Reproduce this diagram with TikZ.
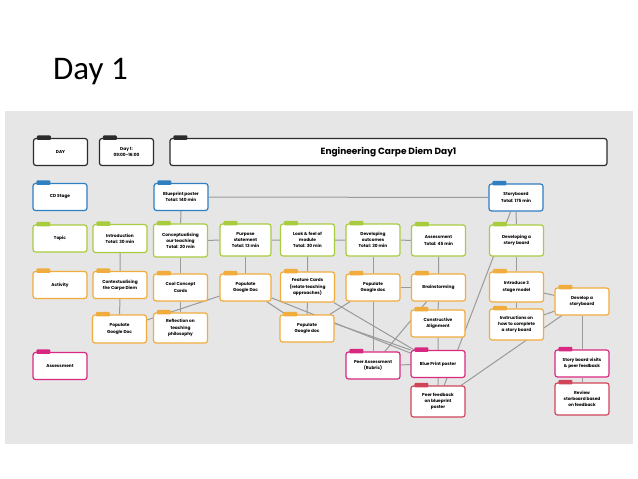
\documentclass[tikz,border=0pt]{standalone}
\usepackage{fontspec}
\setmainfont{Carlito}
\newfontfamily\boxfont{Poppins}
\usepackage{tikz}
\usetikzlibrary{calc}

\definecolor{daycol}{HTML}{2B2B2B}
\definecolor{stagecol}{HTML}{2F7FC1}
\definecolor{topiccol}{HTML}{A8CC3E}
\definecolor{actcol}{HTML}{F0AC3C}
\definecolor{assesscol}{HTML}{D9287F}
\definecolor{reviewcol}{HTML}{D0455A}
\definecolor{linecol}{HTML}{9A9A9A}
\definecolor{bgcol}{HTML}{E6E6E6}

\pgfdeclarelayer{back}
\pgfdeclarelayer{links}
\pgfsetlayers{back,links,main}

\tikzset{
    box/.style={draw, fill=white, rounded corners=2.5pt, line width=1.2pt,
        minimum width=54pt, minimum height=27pt, align=center, inner sep=1pt,
        font=\boxfont\bfseries\fontsize{4.3}{6.2}\selectfont},
    daybox/.style={box, draw=daycol},
    stagebox/.style={box, draw=stagecol},
    topicbox/.style={box, draw=topiccol},
    actbox/.style={box, draw=actcol},
    assessbox/.style={box, draw=assesscol},
    reviewbox/.style={box, draw=reviewcol},
    link/.style={draw=linecol, line width=1pt},
}

\begin{document}
\begin{tikzpicture}[x=1pt, y=-1pt]

        \useasboundingbox (0,0) rectangle (638,479);

        \begin{pgfonlayer}{back}
            \fill[bgcol] (5,111) rectangle (633,444);
        \end{pgfonlayer}

        \node[anchor=base west, font=\fontsize{33}{38}\selectfont, inner sep=0pt] (heading) at (53,79) {Day 1};

        % legend column
        \node[daybox] (daylbl) at (60.5,152) {DAY};
        \node[stagebox] (stagelbl) at (60,197) {CD Stage};
        \node[topicbox] (topiclbl) at (60,238.5) {Topic};
        \node[actbox] (actlbl) at (60,285) {Activity};
        \node[assessbox] (assesslbl) at (60,366) {Assessment};

        \node[daybox] (dayone) at (126.5,152) {Day 1:\\09:00-16:00};
        \node[daybox, minimum width=437pt, font=\boxfont\bfseries\fontsize{9}{11}\selectfont] (title) at (388.5,152) {Engineering Carpe Diem Day1};

        % stages
        \node[stagebox] (blueprint) at (181,197) {Blueprint poster\\Total: 140 min};
        \node[stagebox] (storyboard) at (516,197.5) {Storyboard\\Total: 175 min};

        % topics
        \node[topicbox, minimum height=28pt] (intro) at (120,238.5) {Introduction\\Total: 30 min};
        \node[topicbox, minimum height=33pt] (concept) at (180.5,240.5) {Conceptualising\\our teaching\\Total: 20 min};
        \node[topicbox, minimum width=51pt, minimum height=32pt] (purpose) at (245.5,240) {Purpose\\statement\\Total: 13 min};
        \node[topicbox, minimum height=32pt] (lookfeel) at (307.5,240) {Look \& feel of\\module\\Total: 30 min};
        \node[topicbox, minimum height=32pt] (outcomes) at (373,240) {Developing\\outcomes\\Total: 30 min};
        \node[topicbox, minimum height=31pt] (assess) at (438.5,240.5) {Assessment\\Total: 45 min};
        \node[topicbox, minimum height=31pt] (devstory) at (516.5,240.5) {Developing a\\story board};

        % activities
        \node[actbox] (context) at (120,285) {Contextualising\\the Carpe Diem};
        \node[actbox] (coolcards) at (180.5,287.5) {Cool Concept\\Cards};
        \node[actbox, minimum width=51pt] (populateA) at (245.5,287.5) {Populate\\Google Doc};
        \node[actbox, minimum height=30pt] (feature) at (307.5,287) {Feature Cards\\(relate teaching\\approaches)};
        \node[actbox] (populateB) at (373,287.5) {Populate\\Google doc};
        \node[actbox] (brainstorm) at (438.5,287.5) {Brainstorming};
        \node[actbox, minimum height=30pt] (introduce) at (516.5,287) {Introduce 3\\stage model};
        \node[actbox] (develop) at (582,301.5) {Develop a\\storyboard};
        \node[actbox, minimum height=28pt] (populateC) at (119.5,329) {Populate\\Google Doc};
        \node[actbox, minimum height=30pt] (reflect) at (180.5,328) {Reflection on\\teaching\\philosophy};
        \node[actbox] (populateD) at (307,328.5) {Populate\\Google doc};
        \node[actbox] (constructive) at (438,323.5) {Constructive\\Alignment};
        \node[actbox, minimum height=31pt] (instructions) at (516.5,324.5) {Instructions on\\how to complete\\a story board};

        % assessment
        \node[assessbox] (peerassess) at (373,365.5) {Peer Assessment\\(Rubric)};
        \node[assessbox] (bpposter) at (438,364) {Blue Print poster};
        \node[assessbox] (sbvisits) at (582,363.5) {Story board visits\\\& peer feedback};
        \node[reviewbox, minimum height=31pt] (peerfb) at (438,401.5) {Peer feedback\\on blueprint\\poster};
        \node[reviewbox, minimum height=32pt] (review) at (582,399) {Review\\storboard based\\on feedback};

        % tabs
        \foreach \n/\c in {daylbl/daycol, dayone/daycol, title/daycol, stagelbl/stagecol, blueprint/stagecol, storyboard/stagecol,
            topiclbl/topiccol, intro/topiccol, concept/topiccol, purpose/topiccol, lookfeel/topiccol, outcomes/topiccol, assess/topiccol, devstory/topiccol,
            actlbl/actcol, context/actcol, coolcards/actcol, populateA/actcol, feature/actcol, populateB/actcol, brainstorm/actcol, introduce/actcol,
            develop/actcol, populateC/actcol, reflect/actcol, populateD/actcol, constructive/actcol, instructions/actcol,
            assesslbl/assesscol, peerassess/assesscol, bpposter/assesscol, sbvisits/assesscol, peerfb/reviewcol, review/reviewcol}
            \fill[\c, rounded corners=1pt] ([xshift=4pt,yshift=-2pt]\n.north west) rectangle ++(14pt,4.5pt);

        \begin{pgfonlayer}{links}
            \draw[link] (blueprint) -- (storyboard);
            \draw[link] (blueprint) -- (concept);
            \draw[link] (storyboard) -- (devstory);
            \draw[link] (storyboard) -- (peerfb);
            \draw[link] (concept) -- (purpose) -- (lookfeel) -- (outcomes) -- (assess);
            \draw[link] (intro) -- (context) -- (populateC);
            \draw[link] (concept) -- (coolcards) -- (reflect);
            \draw[link] (purpose) -- (populateA);
            \draw[link] (lookfeel) -- (feature) -- (populateD);
            \draw[link] (outcomes) -- (populateB) -- (peerassess);
            \draw[link] (assess) -- (brainstorm) -- (constructive) -- (bpposter) -- (peerfb);
            \draw[link] (devstory) -- (introduce) -- (instructions);
            \draw[link] (populateC) -- (populateA);
            \draw[link] (populateA) -- (populateD);
            \draw[link] (populateB) -- (populateD);
            \draw[link] (populateB) -- (brainstorm);
            \draw[link] (populateA) -- (bpposter);
            \draw[link] (feature) -- (bpposter);
            \draw[link] ([yshift=5pt]populateD.east) -- (bpposter.north west);
            \draw[link] (brainstorm) -- (peerassess);
            \draw[link] (peerassess) -- (bpposter);
            \draw[link] (introduce) -- (develop);
            \draw[link] (instructions) -- (develop);
            \draw[link] (peerfb) -- (develop);
            \draw[link] (develop) -- (sbvisits) -- (review);
        \end{pgfonlayer}

    \end{tikzpicture}
\end{document}
